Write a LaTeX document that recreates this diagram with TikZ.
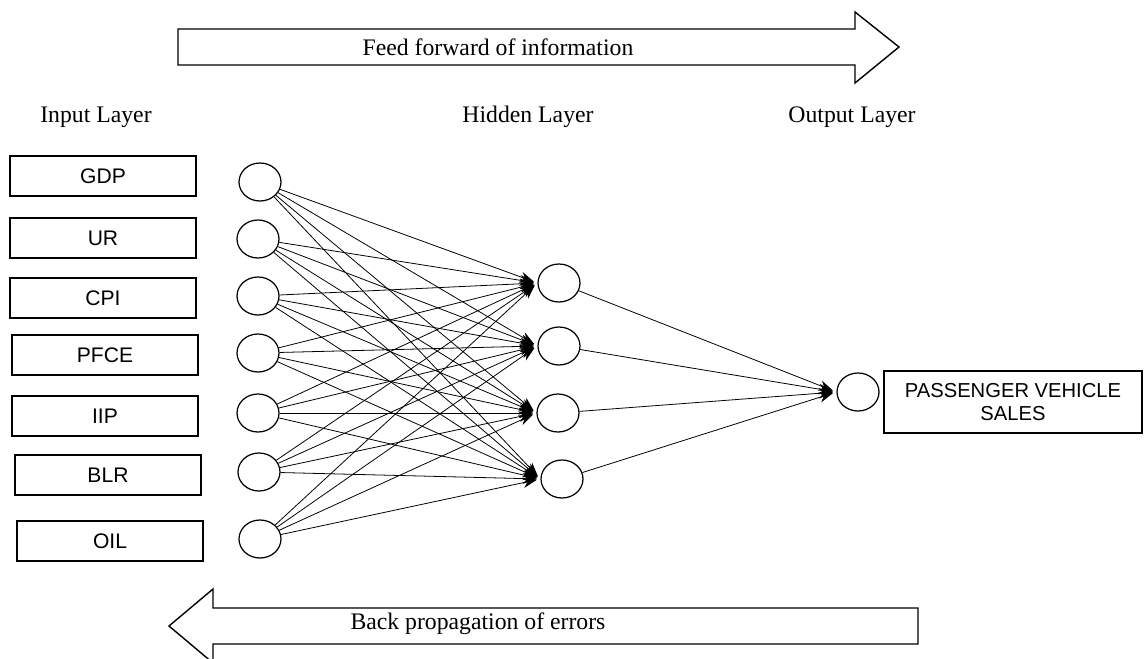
\documentclass[tikz,border=0pt]{standalone}
\usepackage{fontspec}
\setmainfont{Liberation Serif}
\newfontfamily\boxfont{Liberation Sans}
\usetikzlibrary{shapes.geometric, arrows.meta, positioning, calc}

\begin{document}
\begin{tikzpicture}[x=0.02cm, y=-0.02cm,
    inbox/.style={draw, line width=0.8pt, minimum width=3.72cm, minimum height=0.8cm, font=\boxfont\fontsize{12}{14}\selectfont},
    neuron/.style={draw, ellipse, line width=0.7pt, minimum width=0.84cm, minimum height=0.76cm, inner sep=0pt},
    link/.style={line width=0.45pt, shorten >=2pt, -{Stealth[length=8pt, width=6pt]}},
    layerlabel/.style={font=\fontsize{13.5}{16}\selectfont}]
\clip (0,0) rectangle (1146,659);
\useasboundingbox (0,0) rectangle (1146,659);

% Feed forward arrow
\draw[line width=0.8pt] (178,29) -- (855,29) -- (855,12) -- (899,47) -- (855,83) -- (855,65) -- (178,65) -- cycle;
\node[layerlabel] (fwd) at (498,47) {Feed forward of information};

% Layer titles
\node[layerlabel] (inlabel) at (96,117) {Input Layer};
\node[layerlabel] (hidlabel) at (528,117) {Hidden Layer};
\node[layerlabel] (outlabel) at (852,117) {Output Layer};

% Input variables and input neurons
\foreach \lab/\bx/\by/\cx/\cy [count=\i] in {GDP/103/176/260/182, UR/103/238/258/239, CPI/103/298/258/296, PFCE/105/355/258/353, IIP/105/416/258/413, BLR/108/475/259/472, OIL/110/541/260/539} {
    \node[inbox] (box\i) at (\bx,\by) {\lab};
    \node[neuron] (in\i) at (\cx,\cy) {};
}

% Hidden neurons
\foreach \cx/\cy [count=\j] in {559/283, 559/346, 558/413, 562/479} {
    \node[neuron] (hid\j) at (\cx,\cy) {};
}

% Output neuron
\node[neuron] (out) at (858,392) {};
\node[draw, line width=0.8pt, minimum width=5.16cm, minimum height=1.24cm, align=center, font=\boxfont\fontsize{11.5}{13.5}\selectfont] (sales) at (1013,402) {PASSENGER VEHICLE\\SALES};

% Weights
\foreach \i in {1,...,7} {
    \foreach \j in {1,...,4} {
        \draw[link] (in\i) -- (hid\j.west);
    }
}
\foreach \j in {1,...,4} {
    \draw[link] (hid\j) -- (out.west);
}

% Back propagation arrow
\draw[line width=0.8pt] (918,608) -- (213,608) -- (213,589) -- (169,626) -- (213,663) -- (213,644) -- (918,644) -- cycle;
\node[layerlabel] (bwd) at (478,624) {Back propagation of errors};

\end{tikzpicture}
\end{document}
